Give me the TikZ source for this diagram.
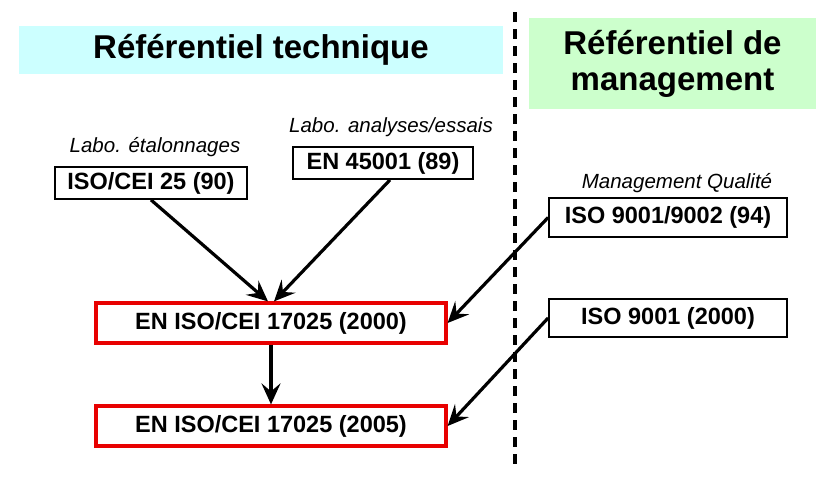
\documentclass[tikz,border=0pt]{standalone}
\usepackage{fontspec}
\setmainfont{Liberation Sans}
\usepackage{tikz}
\usetikzlibrary{arrows.meta, positioning}
\definecolor{hdrcyan}{RGB}{204,255,255}
\definecolor{hdrgreen}{RGB}{204,255,204}
\definecolor{myred}{RGB}{232,0,0}
\tikzset{
  header/.style={rectangle, inner sep=0pt, align=center,
    font=\fontsize{33}{36}\selectfont\bfseries},
  stdbox/.style={rectangle, draw=black, line width=1.8pt, inner sep=0pt,
    minimum height=32pt, font=\fontsize{23.5}{26}\selectfont\bfseries},
  redbox/.style={rectangle, draw=myred, line width=3.2pt, inner sep=0pt,
    minimum width=350pt, minimum height=40pt,
    font=\fontsize{23.5}{26}\selectfont\bfseries},
  tag/.style={inner sep=0pt, font=\fontsize{20.5}{24}\selectfont\itshape},
  arrow/.style={-{Stealth[length=21pt,width=19pt,inset=8pt]}, line width=3.2pt},
  divider/.style={dash pattern=on 10pt off 7pt, line width=3.2pt}
}
\begin{document}
\begin{tikzpicture}[x=1pt,y=-1pt]
  \useasboundingbox (0,0) rectangle (826,482);
  % headers
  \node[header, fill=hdrcyan, minimum width=484pt, minimum height=48pt] (techhdr) at (261,50) {Référentiel technique};
  \node[header, fill=hdrgreen, minimum width=287pt, minimum height=91pt] (mgmthdr) at (672.5,63.5) {Référentiel de\\management};
  % separation
  \coordinate (septop) at (515,12);
  \coordinate (sepbot) at (515,470);
  \draw[divider] (septop) -- (sepbot);
  % technical side
  \node[tag] (labetal) at (155,147) {Labo. étalonnages};
  \node[stdbox, minimum width=192pt] (iso25) at (151,183) {ISO/CEI 25 (90)};
  \node[tag] (labess) at (391,127) {Labo. analyses/essais};
  \node[stdbox, minimum width=180pt] (en45001) at (383,163) {EN 45001 (89)};
  \node[redbox] (iec2000) at (271,323) {EN ISO/CEI 17025 (2000)};
  \node[redbox] (iec2005) at (271,426) {EN ISO/CEI 17025 (2005)};
  % management side
  \node[tag] (labqual) at (677,183) {Management Qualité};
  \node[stdbox, minimum width=238pt, minimum height=39pt] (iso94) at (668,217.5) {ISO 9001/9002 (94)};
  \node[stdbox, minimum width=238pt, minimum height=38pt] (iso2000) at (668,318) {ISO 9001 (2000)};
  % arrows
  \draw[arrow] (iso25.south) -- ([xshift=-3pt]iec2000.north);
  \draw[arrow] ([xshift=7pt]en45001.south) -- ([xshift=3pt]iec2000.north);
  \draw[arrow] (iec2000.south) -- (iec2005.north);
  \draw[arrow] (iso94.west) -- (iec2000.east);
  \draw[arrow] (iso2000.west) -- (iec2005.east);
\end{tikzpicture}
\end{document}
